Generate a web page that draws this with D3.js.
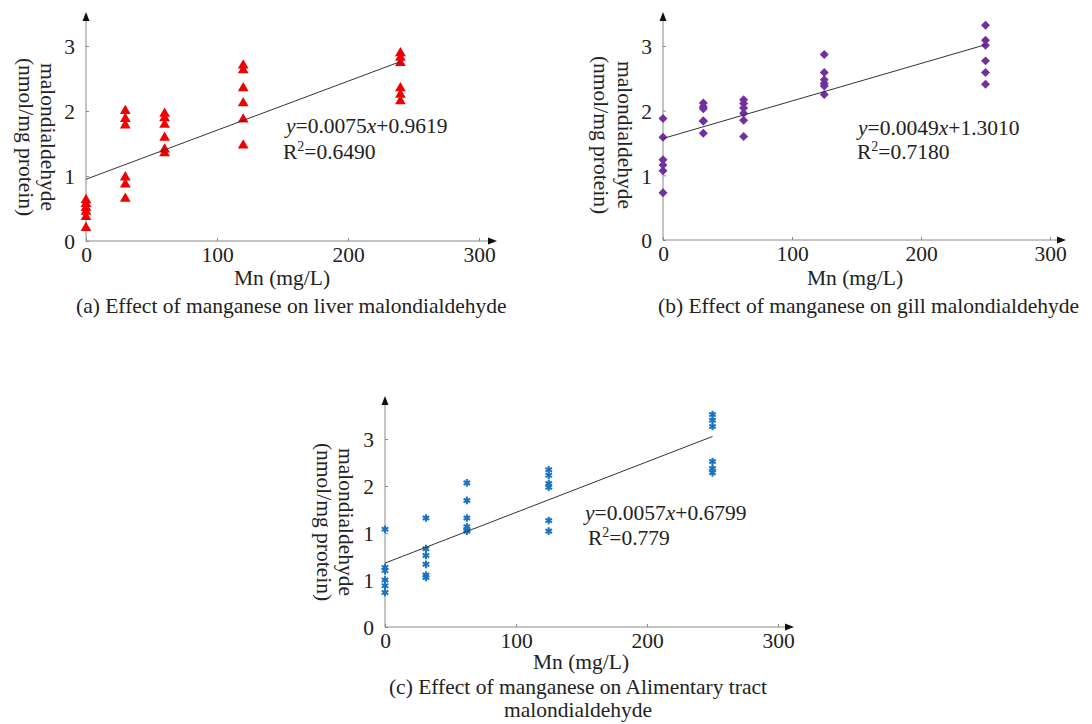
<!DOCTYPE html>
<html>
<head>
<meta charset="utf-8">
<script src="https://cdn.jsdelivr.net/npm/d3@7"></script>
<style>
  body { margin: 0; background: #fff; }
  svg { display: block; font-family: "Liberation Serif", "Times New Roman", Times, serif; }
</style>
</head>
<body>
<svg id="chart" width="1092" height="724"></svg>
<script>
// ---- data ----
const xTicks = [0, 100, 200, 300];
const yTicks = [0, 1, 2, 3];
const yTickLabels = ["0", "1", "2", "3"];
// panel (c) has evenly spaced ticks that are labelled 0,1,1,2,3 in the source
const yTicksC = [0, 0.75, 1.5, 2.25, 3];
const yTickLabelsC = ["0", "1", "1", "2", "3"];

// (a) liver
const doseA = [0, 30, 60, 120, 240];
const liverA = [
  [0.63, 0.57, 0.51, 0.45, 0.37, 0.2],
  [2.0, 1.88, 1.78, 0.98, 0.87, 0.65],
  [1.96, 1.89, 1.79, 1.59, 1.41, 1.35],
  [2.7, 2.63, 2.35, 2.12, 1.87, 1.47],
  [2.89, 2.82, 2.74, 2.35, 2.25, 2.15]
];
const fitA = [[0, 0.95], [240, 2.76]];

// (b) gill
const doseB = [0, 31.25, 62.5, 125, 250];
const gillB = [
  [1.88, 1.59, 1.24, 1.16, 1.07, 0.73],
  [2.12, 2.06, 2.03, 1.84, 1.84, 1.65],
  [2.17, 2.11, 2.04, 1.96, 1.85, 1.6],
  [2.87, 2.59, 2.48, 2.42, 2.38, 2.25],
  [3.32, 3.09, 3.01, 2.77, 2.59, 2.41]
];
const fitB = [[0, 1.57], [250, 3.02]];

// (c) alimentary tract (in units of the evenly spaced axis)
const doseC = [0, 31.25, 62.5, 125, 250];
const tractC = [
  [1.56, 0.95, 0.9, 0.75, 0.66, 0.55],
  [1.74, 1.25, 1.14, 1.0, 0.83, 0.79],
  [2.3, 2.02, 1.74, 1.6, 1.55, 1.53],
  [2.51, 2.42, 2.29, 2.23, 1.7, 1.53],
  [3.39, 3.3, 3.2, 2.64, 2.53, 2.46]
];
const fitC = [[0, 1.02], [250, 3.04]];

const eqA = ["0.0075", "0.9619", "0.6490"];
const eqB = ["0.0049", "1.3010", "0.7180"];
const eqC = ["0.0057", "0.6799", "0.779"];

const svg = d3.select("#chart");
const FS = 21.5;
const FONT = '"Liberation Serif", "Times New Roman", Times, serif';

function drawPanel(p) {
  const g = svg.append("g").attr("font-family", FONT);
  const x = d3.scaleLinear().domain([0, 300]).range([p.x0, p.x1]);
  const y = d3.scaleLinear().domain([0, 3]).range([p.y0, p.y1]);

  // axes
  const xa = g.append("g")
    .attr("transform", `translate(0,${p.y0})`)
    .call(d3.axisBottom(x).tickValues(xTicks).tickSizeInner(-3).tickSizeOuter(0).tickPadding(6));
  const ya = g.append("g")
    .attr("transform", `translate(${p.x0},0)`)
    .call(d3.axisLeft(y).tickValues(p.yTicks)
      .tickFormat((d, i) => p.yLabels[i])
      .tickSizeInner(-3).tickSizeOuter(0).tickPadding(11));
  [xa, ya].forEach(a => {
    a.attr("font-family", FONT);
    a.select(".domain").remove();
    a.selectAll("line").attr("stroke", "#8a8a8a");
    a.selectAll("text").attr("font-size", FS).attr("fill", "#222");
  });
  ya.selectAll("text").attr("dy", "0.36em");

  // axis lines with arrows
  g.append("line").attr("x1", p.x0).attr("y1", p.y0).attr("x2", p.arrowX - 6).attr("y2", p.y0)
    .attr("stroke", "#8a8a8a");
  g.append("line").attr("x1", p.x0).attr("y1", p.y0).attr("x2", p.x0).attr("y2", p.arrowY + 6)
    .attr("stroke", "#8a8a8a");
  g.append("path")
    .attr("d", `M${p.arrowX},${p.y0}l-9,-3.5l0,7z`).attr("fill", "#111");
  g.append("path")
    .attr("d", `M${p.x0},${p.arrowY}l-3.5,9l7,0z`).attr("fill", "#111");

  // points
  const pts = [];
  p.dose.forEach((d, i) => p.values[i].forEach(v => pts.push([d, v])));
  const sym = d3.symbol().type(p.symbol).size(p.size);
  g.selectAll(".pt").data(pts).join("path")
    .attr("class", "pt")
    .attr("d", sym)
    .attr("transform", d => `translate(${x(d[0])},${y(d[1])})${p.rotate ? " rotate(45)" : ""}`)
    .attr("fill", p.stroke ? "none" : p.color)
    .attr("stroke", p.stroke ? p.color : "none")
    .attr("stroke-width", p.stroke ? 2 : 0);

  // fit line
  g.append("path")
    .attr("d", d3.line().x(d => x(d[0])).y(d => y(d[1]))(p.fit))
    .attr("stroke", "#333").attr("stroke-width", 1).attr("fill", "none");

  // equation
  const t1 = g.append("text").attr("x", p.eq[0]).attr("y", p.eq[1]).attr("font-size", FS).attr("fill", "#222");
  t1.append("tspan").attr("font-style", "italic").text("y");
  t1.append("tspan").text("=" + p.eqText[0]);
  t1.append("tspan").attr("font-style", "italic").text("x");
  t1.append("tspan").text("+" + p.eqText[1]);
  const t2 = g.append("text").attr("x", p.eq[2]).attr("y", p.eq[3]).attr("font-size", FS).attr("fill", "#222");
  t2.append("tspan").text("R");
  t2.append("tspan").attr("font-size", 14).attr("dy", -8).text("2");
  t2.append("tspan").attr("dy", 8).text("=" + p.eqText[2]);

  // x title
  g.append("text").attr("x", p.xTitle[0]).attr("y", p.xTitle[1])
    .attr("text-anchor", "middle").attr("font-size", FS).attr("fill", "#222")
    .text("Mn (mg/L)");

  // y title (rotated)
  const yt = g.append("text")
    .attr("transform", `translate(${p.yTitle[0]},${p.yTitle[1]}) rotate(90)`)
    .attr("text-anchor", "middle").attr("font-size", FS).attr("fill", "#222");
  yt.append("tspan").attr("x", 0).attr("y", 0).text("malondialdehyde");
  yt.append("tspan").attr("x", 0).attr("y", p.yTitle[2]).text("(nmol/mg protein)");

  // caption
  p.caption.forEach(c => {
    g.append("text").attr("x", c[0]).attr("y", c[1])
      .attr("text-anchor", c[3]).attr("font-size", FS).attr("fill", "#222").text(c[2]);
  });
}

drawPanel({
  x0: 86, x1: 479, y0: 241, y1: 46, arrowX: 497, arrowY: 12,
  yTicks: yTicks, yLabels: yTickLabels,
  dose: doseA, values: liverA, fit: fitA,
  symbol: d3.symbolTriangle, size: 50, color: "#f00000",
  eqText: eqA, eq: [286, 133, 283, 159],
  xTitle: [282, 285], yTitle: [41, 137, 22],
  caption: [[76, 313, "(a) Effect of manganese on liver malondialdehyde", "start"]]
});

drawPanel({
  x0: 663, x1: 1050, y0: 240, y1: 46, arrowX: 1066, arrowY: 12,
  yTicks: yTicks, yLabels: yTickLabels,
  dose: doseB, values: gillB, fit: fitB,
  symbol: d3.symbolSquare, size: 40, rotate: true, color: "#7030a0",
  eqText: eqB, eq: [858, 135, 857, 159],
  xTitle: [855, 285], yTitle: [618, 135, 24],
  caption: [[658, 313, "(b) Effect of manganese on gill malondialdehyde", "start"]]
});

drawPanel({
  x0: 385, x1: 778, y0: 627, y1: 439, arrowX: 794, arrowY: 396,
  yTicks: yTicksC, yLabels: yTickLabelsC,
  dose: doseC, values: tractC, fit: fitC,
  symbol: d3.symbolAsterisk, size: 40, stroke: true, color: "#1a73c2",
  eqText: eqC, eq: [585, 520, 588, 545],
  xTitle: [581, 669], yTitle: [339, 522, 22],
  caption: [[578, 694, "(c) Effect of manganese on Alimentary tract", "middle"],
            [578, 717, "malondialdehyde", "middle"]]
});
</script>
</body>
</html>
